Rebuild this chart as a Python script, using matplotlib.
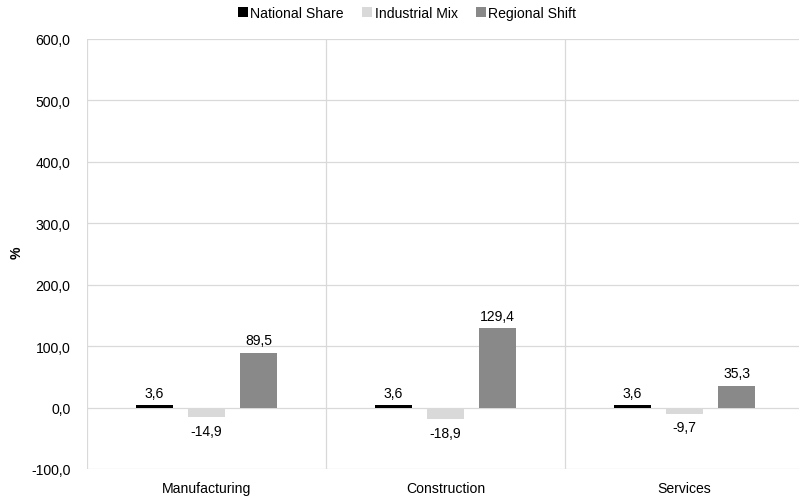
import matplotlib
matplotlib.use("Agg")
import matplotlib.pyplot as plt
import numpy as np
from matplotlib.ticker import FuncFormatter, FixedLocator

plt.rcParams['font.family'] = ['Liberation Sans', 'DejaVu Sans']

categories = ["Manufacturing", "Construction", "Services"]
series_names = ["National Share", "Industrial Mix", "Regional Shift"]
national_share = [3.6, 3.6, 3.6]
industrial_mix = [-14.9, -18.9, -9.7]
regional_shift = [89.5, 129.4, 35.3]
colors = ["#000000", "#d9d9d9", "#898989"]

FS = 10.1
fig = plt.figure(figsize=(7.99, 5.02), dpi=100)
W, H = 799, 502
left, right, top, bottom = 87, 804, 40, 470
ax = fig.add_axes([left / W, 1 - bottom / H, (right - left) / W, (bottom - top) / H])

x = np.arange(len(categories))
spacing = 0.2176
width = 0.155
fmt = lambda v: f"{v:.1f}".replace(".", ",")
for i, (name, vals, c) in enumerate(zip(series_names, [national_share, industrial_mix, regional_shift], colors)):
    pos = x + (i - 1) * spacing
    ax.bar(pos, vals, width, color=c, label=name, zorder=3)
    for p, v in zip(pos, vals):
        if v >= 0:
            ax.annotate(fmt(v), (p, v), xytext=(0, 4), textcoords="offset points",
                        ha="center", va="bottom", fontsize=FS, color="#000000")
        else:
            ax.annotate(fmt(v), (p, v), xytext=(0, -5), textcoords="offset points",
                        ha="center", va="top", fontsize=FS, color="#000000")

ax.set_xlim(-0.5, len(categories) - 0.5)
ax.set_ylim(-100, 600)
ax.set_yticks(np.arange(-100, 601, 100))
ax.yaxis.set_major_formatter(FuncFormatter(lambda v, p: fmt(v)))
ax.set_xticks(x)
ax.set_xticklabels(categories)
ax.xaxis.set_minor_locator(FixedLocator([-0.5, 0.5, 1.5, 2.5]))
ax.grid(axis="y", which="major", color="#d9d9d9", linewidth=0.9, zorder=0)
ax.grid(axis="x", which="minor", color="#d9d9d9", linewidth=0.9, zorder=0)
ax.tick_params(axis="both", which="both", length=0, labelsize=FS, colors="#000000")
ax.tick_params(axis="x", pad=9)
ax.tick_params(axis="y", pad=12)
for s in ax.spines.values():
    s.set_visible(False)
ax.set_ylabel("%", fontsize=FS, fontweight="bold", va="center")
ax.yaxis.set_label_coords((17 - left) / (right - left), (bottom - 253) / (bottom - top))

handles, labels = ax.get_legend_handles_labels()
fig.legend(handles, labels, loc="center", bbox_to_anchor=(407 / W, 1 - 14 / H), ncol=3,
           frameon=False, fontsize=FS, handlelength=0.75, handleheight=0.75,
           handletextpad=0.15, columnspacing=1.3)

fig.savefig("out.png", dpi=100)
